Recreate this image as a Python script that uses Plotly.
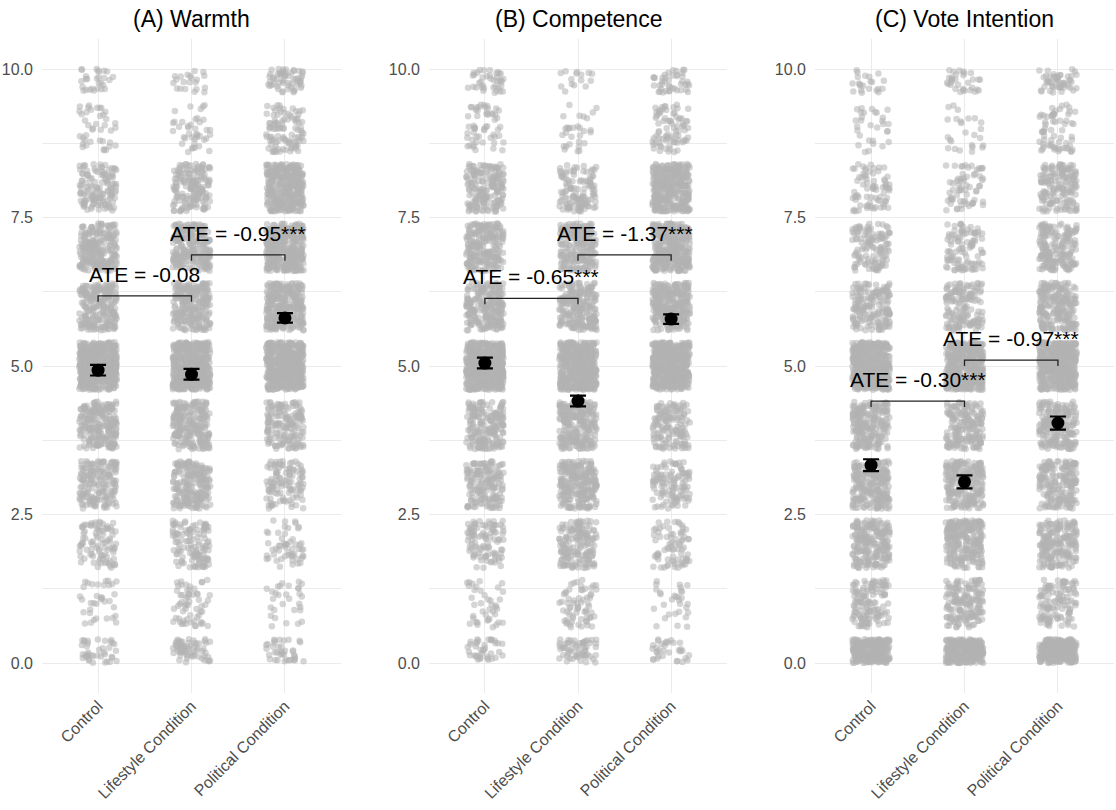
import plotly.graph_objects as go
import numpy as np

conditions = ["Control", "Lifestyle Condition", "Political Condition"]
scores = list(range(11))
panel_titles = ["(A) Warmth", "(B) Competence", "(C) Vote Intention"]

# Number of responses per score (0..10), read from point density
warmth_control = [80, 35, 90, 170, 220, 480, 220, 220, 130, 40, 60]
warmth_lifestyle = [130, 60, 120, 200, 220, 480, 230, 220, 160, 40, 50]
warmth_political = [70, 30, 55, 110, 160, 480, 300, 330, 330, 100, 110]

competence_control = [90, 40, 100, 160, 190, 480, 230, 220, 180, 55, 60]
competence_lifestyle = [120, 65, 160, 230, 230, 480, 220, 200, 120, 30, 25]
competence_political = [60, 30, 75, 110, 140, 480, 300, 330, 330, 80, 90]

vote_control = [550, 130, 220, 220, 210, 420, 170, 120, 75, 30, 50]
vote_lifestyle = [600, 160, 240, 210, 180, 420, 150, 100, 65, 25, 70]
vote_political = [500, 120, 190, 190, 190, 450, 220, 190, 160, 65, 85]

# Means and standard errors per condition
warmth_mean = [4.93, 4.86, 5.81]
warmth_se = [0.09, 0.09, 0.08]
competence_mean = [5.05, 4.41, 5.79]
competence_se = [0.09, 0.09, 0.08]
vote_mean = [3.33, 3.05, 4.04]
vote_se = [0.10, 0.11, 0.11]

# ATE brackets
ate_labels = [["ATE = -0.08", "ATE = -0.95***"],
              ["ATE = -0.65***", "ATE = -1.37***"],
              ["ATE = -0.30***", "ATE = -0.97***"]]
bracket_y = [[6.18, 6.87], [6.14, 6.87], [4.41, 5.10]]
bracket_pairs = [(1, 2), (2, 3)]

counts = [
    [warmth_control, warmth_lifestyle, warmth_political],
    [competence_control, competence_lifestyle, competence_political],
    [vote_control, vote_lifestyle, vote_political],
]
means = [warmth_mean, competence_mean, vote_mean]
ses = [warmth_se, competence_se, vote_se]

FONT = "Liberation Sans, Arial, sans-serif"
W, H = 1116, 810
x_domains = [(42 / W, 341 / W), (429 / W, 727 / W), (815 / W, 1114 / W)]
y_domain = ((H - 692.7) / H, (H - 39.3) / H)


def hash01(a, b):
    # deterministic hash in [0, 1) used only for jitter placement
    h = np.sin(a * 12.9898 + b * 78.233) * 43758.5453
    return h - np.floor(h)


def jitter(n, k):
    i = np.arange(n, dtype=float) + 1.0
    u = hash01(i, k * 1.731 + 0.37)
    v = hash01(i * 1.618 + 3.1, k * 2.417 + 11.9)
    return u * 2 - 1, v * 2 - 1


fig = go.Figure()
k = 0
for p in range(3):
    xa = "x" if p == 0 else f"x{p+1}"
    ya = "y" if p == 0 else f"y{p+1}"
    xs, ys = [], []
    for c in range(3):
        for s, n in zip(scores, counts[p][c]):
            k += 1
            dx, dy = jitter(n, k)
            px = (c + 1) + dx * 0.2
            py = s + dy * 0.4
            keep = (py >= 0) & (py <= 10)
            xs.extend(px[keep].tolist())
            ys.extend(py[keep].tolist())
    fig.add_trace(go.Scatter(
        x=xs, y=ys, mode="markers", xaxis=xa, yaxis=ya,
        marker=dict(size=6.5, color="rgb(179,179,179)", opacity=0.55, line=dict(width=0)),
        hoverinfo="skip", showlegend=False))
    # means with error bars
    fig.add_trace(go.Scatter(
        x=[1, 2, 3], y=means[p], mode="markers", xaxis=xa, yaxis=ya,
        marker=dict(size=13, color="black"),
        error_y=dict(type="data", array=ses[p], color="black", thickness=2.2, width=8),
        showlegend=False))
    # brackets
    for (c1, c2), by, lab in zip(bracket_pairs, bracket_y[p], ate_labels[p]):
        fig.add_trace(go.Scatter(
            x=[c1, c1, c2, c2], y=[by - 0.1, by, by, by - 0.1], mode="lines",
            xaxis=xa, yaxis=ya, line=dict(color="#222222", width=1.3),
            hoverinfo="skip", showlegend=False))
        fig.add_annotation(x=(c1 + c2) / 2, y=by, xref=xa, yref=ya,
                           text=lab, showarrow=False, yanchor="bottom", xanchor="center",
                           yshift=8, font=dict(family=FONT, size=21, color="black"))
    # panel title
    fig.add_annotation(x=(x_domains[p][0] + x_domains[p][1]) / 2, y=1 - 19 / H,
                       xref="paper", yref="paper", text=panel_titles[p], showarrow=False,
                       xanchor="center", yanchor="middle",
                       font=dict(family=FONT, size=23, color="black"))

    axis_common = dict(showline=False, zeroline=False, ticks="",
                       gridcolor="#ebebeb", gridwidth=1,
                       tickfont=dict(family=FONT, size=16, color="#4d4d4d"))
    fig.update_layout(**{
        ("xaxis" if p == 0 else f"xaxis{p+1}"): dict(
            domain=list(x_domains[p]), anchor=ya, range=[0.4, 3.6],
            tickmode="array", tickvals=[1, 2, 3], ticktext=conditions,
            tickangle=-45, showgrid=True, **axis_common),
        ("yaxis" if p == 0 else f"yaxis{p+1}"): dict(
            domain=list(y_domain), anchor=xa, range=[-0.5, 10.5],
            tickmode="array", tickvals=[0, 2.5, 5, 7.5, 10],
            ticktext=["0.0", "2.5", "5.0", "7.5", "10.0"], showgrid=True,
            ticklabelstandoff=8,
            minor=dict(tickmode="array", tickvals=[1.25, 3.75, 6.25, 8.75],
                       showgrid=True, gridcolor="#ebebeb", gridwidth=1),
            **axis_common),
    })

fig.update_layout(width=W, height=H, margin=dict(l=0, r=0, t=0, b=0),
                  plot_bgcolor="white", paper_bgcolor="white",
                  font=dict(family=FONT), showlegend=False)
fig.write_html("out.html")
